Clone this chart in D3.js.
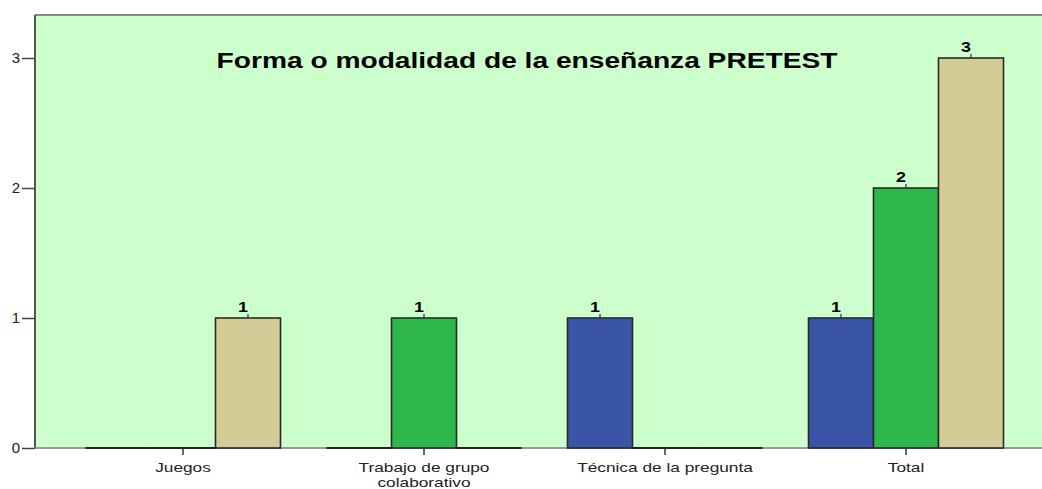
<!DOCTYPE html>
<html>
<head>
<meta charset="utf-8">
<script src="https://cdn.jsdelivr.net/npm/d3@7"></script>
<style>
  body { margin: 0; background: #fff; }
  svg { display: block; font-family: "Liberation Sans", Arial, sans-serif; }
</style>
</head>
<body>
<svg id="chart" width="1042" height="489"></svg>
<script>
// chart data
const categories = ['Juegos', 'Trabajo de grupo\ncolaborativo', 'Técnica de la pregunta', 'Total']
const seriesNames = ['Serie 1', 'Serie 2', 'Serie 3']
const serie1 = [0, 0, 1, 1]
const serie2 = [0, 1, 0, 2]
const serie3 = [1, 0, 0, 3]
const yTicks = [0, 1, 2, 3]
const title = 'Forma o modalidad de la enseñanza PRETEST'

const COLORS = ['#3b55a6', '#2eb84b', '#d3cc97']
const STRETCH = 1.28  // the original picture is a bit wider than tall

const svg = d3.select('#chart')
const plot = { left: 35, top: 15, right: 1050, bottom: 448 }

const rows = categories.map((c, i) => ({ cat: c, vals: [serie1[i], serie2[i], serie3[i]] }))

const xScale = d3.scaleBand()
  .domain(categories)
  .range([62.5, 1026.5])
  .padding(0)
const xSub = d3.scaleBand()
  .domain(seriesNames)
  .range([-97.5, 97.5])
const yScale = d3.scaleLinear()
  .domain([0, 3])
  .range([plot.bottom, 58])

// background
svg.append('rect')
  .attr('x', plot.left).attr('y', plot.top)
  .attr('width', plot.right - plot.left).attr('height', plot.bottom - plot.top)
  .attr('fill', '#ccffcc')
svg.append('line')
  .attr('x1', plot.left).attr('x2', plot.right)
  .attr('y1', plot.top).attr('y2', plot.top)
  .attr('stroke', '#888').attr('stroke-width', 2)

// y axis
const yAxis = d3.axisLeft(yScale).tickValues(yTicks).tickFormat(d3.format('d')).tickSize(13).tickPadding(2)
const yg = svg.append('g').attr('transform', `translate(${plot.left},0)`).call(yAxis)
yg.select('.domain').attr('stroke', '#555').attr('stroke-width', 2)
  .attr('d', `M0,${plot.top}V${plot.bottom}`)
yg.selectAll('.tick line').attr('stroke', '#444').attr('stroke-width', 1.5)
yg.selectAll('.tick text').attr('font-size', 15).attr('fill', '#222')
  .attr('font-family', '"Liberation Sans", Arial, sans-serif')

// x axis
const xAxis = d3.axisBottom(xScale).tickSize(7).tickFormat('')
const xg = svg.append('g').attr('transform', `translate(0,${plot.bottom})`).call(xAxis)
xg.select('.domain').attr('stroke', '#999').attr('stroke-width', 2)
  .attr('d', `M${plot.left},0H${plot.right}`)
xg.selectAll('.tick line').attr('stroke', '#333').attr('stroke-width', 1.5)
xg.selectAll('.tick').each(function(d) {
  const lines = d.split('\n')
  lines.forEach((l, k) => {
    d3.select(this).append('text')
      .attr('text-anchor', 'middle')
      .attr('font-size', 13.5)
      .attr('fill', '#222')
      .attr('transform', `translate(0,${24 + k * 14.5}) scale(${STRETCH},1)`)
      .text(l)
  })
})

// bars
const groups = svg.selectAll('g.grp')
  .data(rows)
  .join('g')
  .attr('class', 'grp')
  .attr('transform', d => `translate(${xScale(d.cat) + xScale.bandwidth() / 2},0)`)

groups.each(function(row) {
  const g = d3.select(this)
  row.vals.forEach((v, k) => {
    const x0 = xSub(seriesNames[k])
    const w = xSub.bandwidth()
    if (v === 0) {
      g.append('line')
        .attr('x1', x0).attr('x2', x0 + w)
        .attr('y1', yScale(0)).attr('y2', yScale(0))
        .attr('stroke', '#222').attr('stroke-width', 2)
      return
    }
    g.append('rect')
      .attr('x', x0).attr('y', yScale(v))
      .attr('width', w).attr('height', yScale(0) - yScale(v))
      .attr('fill', COLORS[k])
      .attr('stroke', '#2a2a2a').attr('stroke-width', 1.6)
    g.append('line')
      .attr('x1', x0 + w / 2).attr('x2', x0 + w / 2)
      .attr('y1', yScale(v)).attr('y2', yScale(v) - 4)
      .attr('stroke', '#333').attr('stroke-width', 1.2)
    g.append('text')
      .attr('transform', `translate(${x0 + w / 2 - 5},${yScale(v) - 6}) scale(${STRETCH},1)`)
      .attr('text-anchor', 'middle')
      .attr('font-size', 14).attr('font-weight', 'bold')
      .text(v)
  })
})

// title
svg.append('text')
  .attr('transform', `translate(527,68) scale(${STRETCH},1)`)
  .attr('text-anchor', 'middle')
  .attr('font-size', 22).attr('font-weight', 'bold')
  .text(title)
</script>
</body>
</html>
